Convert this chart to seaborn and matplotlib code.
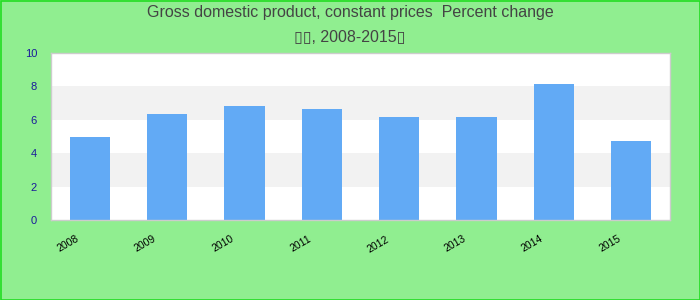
import matplotlib
matplotlib.use("Agg")
import matplotlib.pyplot as plt
import matplotlib.transforms as mtransforms
from matplotlib.patches import Rectangle
import seaborn as sns
import pandas as pd

years = ["2008", "2009", "2010", "2011", "2012", "2013", "2014", "2015"]
gdp_change = [5.0, 6.36, 6.84, 6.66, 6.18, 6.18, 8.12, 4.74]
y_ticks = [0, 2, 4, 6, 8, 10]
title_line1 = "Gross domestic product, constant prices  Percent change"
title_line2 = "\u25af\u25af, 2008-2015\u25af"

sns.set_theme(style="white")
plt.rcParams['font.family'] = ['Liberation Sans', 'DejaVu Sans']

bg = "#90EE90"
fig = plt.figure(figsize=(7, 3), dpi=100, facecolor=bg)
ax = fig.add_axes([51/700, 1 - 220/300, 619/700, 167/300])
ax.set_facecolor("white")

# alternating bands
for i, (lo, hi) in enumerate(zip(y_ticks[:-1], y_ticks[1:])):
    if i % 2 == 1:
        ax.axhspan(lo, hi, color="#f2f2f2", zorder=0, lw=0)

df = pd.DataFrame({"year": years, "value": gdp_change})
sns.barplot(data=df, x="year", y="value", color="#62aaf5", saturation=1,
            width=0.52, ax=ax, zorder=2, linewidth=0, edgecolor="none")

ax.set_ylim(0, 10)
ax.set_xlim(-0.5, len(years) - 0.5)
ax.set_yticks(y_ticks)
ax.set_xlabel("")
ax.set_ylabel("")
ax.tick_params(axis="y", length=0, pad=10, labelsize=8, labelcolor="#1a1a9a")
ax.tick_params(axis="x", length=0, pad=10, labelsize=7.5, labelcolor="black")
offset = mtransforms.ScaledTranslation(-14/100, 0, fig.dpi_scale_trans)
for lbl in ax.get_xticklabels():
    lbl.set_rotation(30)
    lbl.set_ha("right")
    lbl.set_rotation_mode("anchor")
    lbl.set_transform(lbl.get_transform() + offset)

for sp in ax.spines.values():
    sp.set_color("#cccccc")
    sp.set_linewidth(1)
    sp.set_visible(True)

fig.text(0.5, 1 - 13/300, title_line1,
         ha="center", va="center", fontsize=11.5, color="#444444")
fig.text(0.5, 1 - 38/300, title_line2,
         ha="center", va="center", fontsize=11.5, color="#444444",
         family=['Liberation Sans', 'DejaVu Sans'])

fig.patches.append(Rectangle((0.5/700, 0.5/300), 699/700, 299/300, transform=fig.transFigure,
                             fill=False, edgecolor="#22dd22", linewidth=1.2))

fig.savefig("out.png", dpi=100, facecolor=bg)
